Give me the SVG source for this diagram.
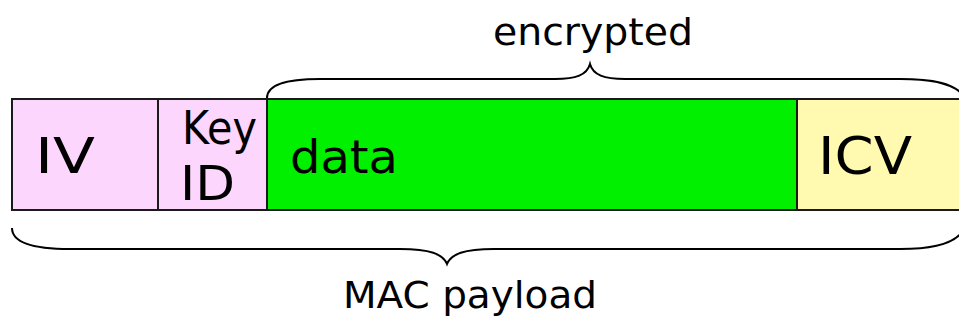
<svg xmlns="http://www.w3.org/2000/svg" width="959" height="322" viewBox="0 0 959 322">
<style>
.box{stroke:#1a1a1a;stroke-width:2}
.lbl{font-family:"DejaVu Sans",sans-serif;fill:#000}
.brace{fill:none;stroke:#000;stroke-width:2}
</style>
<rect width="959" height="322" fill="#fff"/>
<g id="iv">
<rect class="box" x="12" y="99" width="146" height="111" fill="#FDD6FD"/>
<text class="lbl" x="35" y="173" font-size="50" textLength="60" lengthAdjust="spacingAndGlyphs">IV</text>
</g>
<g id="keyid">
<rect class="box" x="158" y="99" width="109" height="111" fill="#FDD6FD"/>
<text class="lbl" x="182" y="144" font-size="46" textLength="75" lengthAdjust="spacingAndGlyphs">Key</text>
<text class="lbl" x="180" y="200" font-size="48" textLength="55" lengthAdjust="spacingAndGlyphs">ID</text>
</g>
<g id="data">
<rect class="box" x="267" y="99" width="530" height="111" fill="#00F000"/>
<text class="lbl" x="290" y="173" font-size="46" textLength="108" lengthAdjust="spacingAndGlyphs">data</text>
</g>
<g id="icv">
<rect class="box" x="797" y="99" width="170" height="111" fill="#FFFAB0"/>
<text class="lbl" x="818" y="174" font-size="52" textLength="94" lengthAdjust="spacingAndGlyphs">ICV</text>
</g>
<g id="connectors">
<path class="brace" d="M267,98 C267,86 283,79 320,79 L555,79 C576,79 587,75 590,64 C593,75 604,79 625,79 L900,79 C935,79 953,84 962,94"/>
<path class="brace" d="M12,228 C12,242 30,249 70,249 L400,249 C430,249 443,254 447,264 C451,254 464,249 494,249 L900,249 C935,249 954,243 962,232"/>
</g>
<g id="labels">
<text class="lbl" x="593" y="45" font-size="38" text-anchor="middle" textLength="200" lengthAdjust="spacingAndGlyphs">encrypted</text>
<text class="lbl" x="470" y="308" font-size="38" text-anchor="middle" textLength="254" lengthAdjust="spacingAndGlyphs">MAC payload</text>
</g>
</svg>
